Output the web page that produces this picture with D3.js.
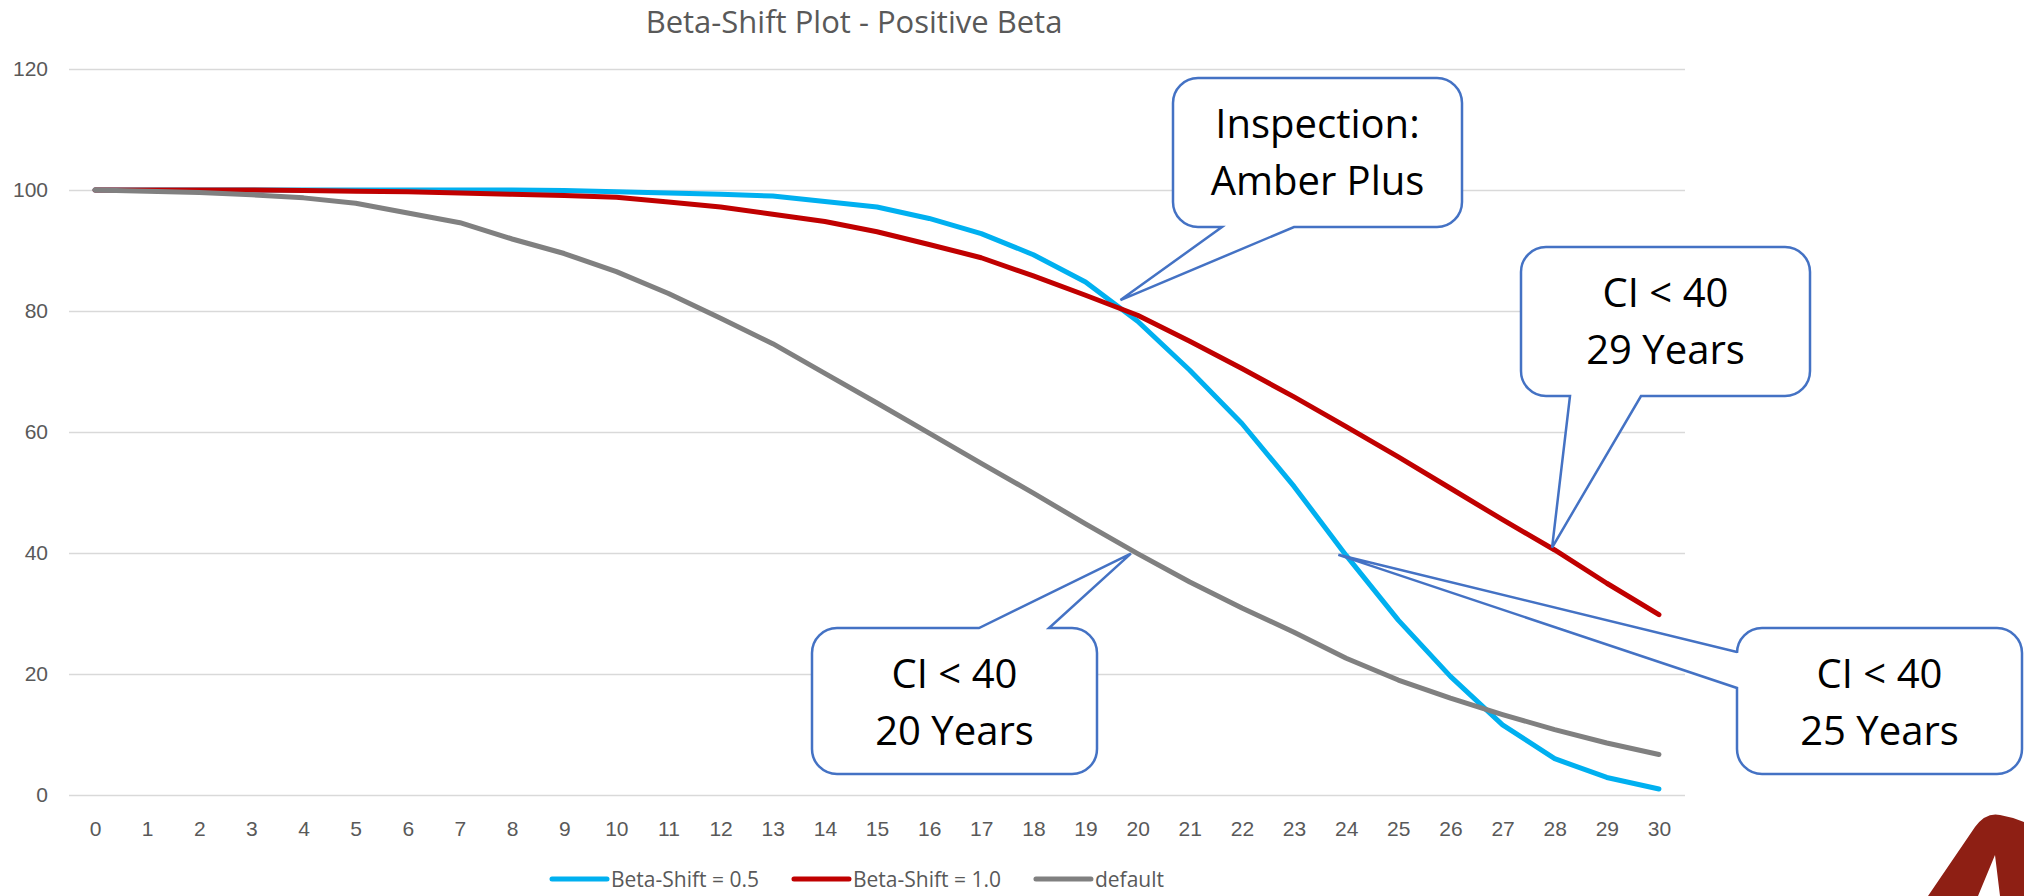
<!DOCTYPE html>
<html>
<head>
<meta charset="utf-8">
<script src="https://cdnjs.cloudflare.com/ajax/libs/d3/7.8.5/d3.min.js"></script>
<style>
  body { margin: 0; background: #fff; }
  svg { display: block; font-family: 'Open Sans', sans-serif; }
  .tick text { fill: #595959; font-size: 21px; }
</style>
</head>
<body>
<script>
// chart data

var years = d3.range(0, 31)
var yTicks = [0, 20, 40, 60, 80, 100, 120]

var betaShift05 = [100, 100, 100, 100, 100, 100, 100, 100, 100, 99.9, 99.7,
  99.5, 99.3, 99.0, 98.1, 97.2, 95.3, 92.8, 89.3, 84.8, 78.3,
  70.2, 61.4, 51.0, 39.6, 28.9, 19.6, 11.6, 6.0, 2.9, 1.0]
var betaShift10 = [100, 100, 100, 100, 99.9, 99.8, 99.7, 99.5, 99.3, 99.1, 98.8,
  98.0, 97.2, 96.0, 94.8, 93.1, 91.0, 88.8, 85.8, 82.6, 79.3,
  75.0, 70.5, 65.8, 60.9, 55.9, 50.7, 45.5, 40.5, 35.0, 29.8]
var defaultCurve = [100, 99.8, 99.6, 99.2, 98.7, 97.8, 96.2, 94.6, 91.9, 89.5, 86.5,
  82.9, 78.8, 74.6, 69.7, 64.8, 59.8, 54.8, 49.9, 44.8, 39.9,
  35.2, 30.9, 26.9, 22.6, 19.0, 16.0, 13.3, 10.8, 8.6, 6.7]

var seriesNames = ['Beta-Shift = 0.5', 'Beta-Shift = 1.0', 'default']
var seriesColors = ['#00B0F0', '#C00000', '#808080']
var seriesValues = [betaShift05, betaShift10, defaultCurve]

// callout labels and the point (year, value) each one points at
var calloutLines = [['Inspection:', 'Amber Plus'], ['CI < 40', '29 Years'], ['CI < 40', '20 Years'], ['CI < 40', '25 Years']]
var calloutTargets = [[19.67, 81.8], [27.95, 40.9], [19.87, 39.9], [23.85, 39.7]]

// page setup

var width = 2024
var height = 896

var svg = d3.select('body').append('svg')
  .attr('width', width)
  .attr('height', height)

var plot = { left: 69, right: 1685, top: 69, bottom: 795 }

var x = d3.scalePoint()
  .domain(years)
  .range([plot.left, plot.right])
  .padding(0.5)

var y = d3.scaleLinear()
  .domain([0, 120])
  .range([plot.bottom, plot.top])

// turn a fractional year into a pixel position
function xAt(year) {
  return x(0) + year * x.step()
}

// gridlines + y labels

var yAxis = svg.append('g')
  .attr('transform', `translate(${plot.left}, 0)`)
  .call(d3.axisLeft(y)
    .tickValues(yTicks)
    .tickSize(-(plot.right - plot.left))
    .tickPadding(21))

yAxis.select('.domain').remove()
yAxis.selectAll('.tick line')
  .attr('stroke', '#D9D9D9')
  .attr('stroke-width', 1.5)

// x labels

var xAxis = svg.append('g')
  .attr('transform', `translate(0, ${plot.bottom})`)
  .call(d3.axisBottom(x).tickSize(0).tickPadding(26))

xAxis.select('.domain').remove()

// title

svg.append('text')
  .attr('x', 854)
  .attr('y', 33)
  .attr('text-anchor', 'middle')
  .style('font-size', '31px')
  .style('fill', '#595959')
  .text('Beta-Shift Plot - Positive Beta')

// series lines

var line = d3.line()
  .x(function(d, i) { return x(years[i]) })
  .y(function(d) { return y(d) })

svg.selectAll('.series')
  .data(seriesValues)
  .enter()
  .append('path')
  .attr('class', 'series')
  .attr('d', line)
  .attr('fill', 'none')
  .attr('stroke', function(d, i) { return seriesColors[i] })
  .attr('stroke-width', 5)
  .attr('stroke-linejoin', 'round')
  .attr('stroke-linecap', 'round')

// legend

var legend = svg.append('g').attr('class', 'legend')
var legendX = 552
seriesNames.forEach(function(name, i) {
  legend.append('line')
    .attr('x1', legendX)
    .attr('x2', legendX + 55)
    .attr('y1', 879)
    .attr('y2', 879)
    .attr('stroke', seriesColors[i])
    .attr('stroke-width', 5)
    .attr('stroke-linecap', 'round')
  var label = legend.append('text')
    .attr('x', legendX + 59)
    .attr('y', 887)
    .style('font-size', '21px')
    .style('fill', '#595959')
    .text(name)
  legendX += 59 + label.node().getComputedTextLength() + 35
})

// callouts: rounded box with a wedge pointing at a spot on the chart
// box = [left, top, right, bottom], wedge = [side, from, to]

var calloutBoxes = [[1173, 78, 1462, 227], [1521, 247, 1810, 396], [812, 628, 1097, 774], [1737, 628, 2022, 774]]
var calloutWedges = [['bottom', 1222, 1294], ['bottom', 1570, 1641], ['top', 979, 1049], ['left', 652, 688]]

function calloutPath(box, wedge, tip) {
  var x0 = box[0], y0 = box[1], x1 = box[2], y1 = box[3]
  var r = 25
  var p = d3.path()
  p.moveTo(x0 + r, y0)
  if (wedge[0] == 'top') {
    p.lineTo(wedge[1], y0)
    p.lineTo(tip[0], tip[1])
    p.lineTo(wedge[2], y0)
  }
  p.lineTo(x1 - r, y0)
  p.arcTo(x1, y0, x1, y0 + r, r)
  p.lineTo(x1, y1 - r)
  p.arcTo(x1, y1, x1 - r, y1, r)
  if (wedge[0] == 'bottom') {
    p.lineTo(wedge[2], y1)
    p.lineTo(tip[0], tip[1])
    p.lineTo(wedge[1], y1)
  }
  p.lineTo(x0 + r, y1)
  p.arcTo(x0, y1, x0, y1 - r, r)
  if (wedge[0] == 'left') {
    p.lineTo(x0, wedge[2])
    p.lineTo(tip[0], tip[1])
    p.lineTo(x0, wedge[1])
  }
  p.lineTo(x0, y0 + r)
  p.arcTo(x0, y0, x0 + r, y0, r)
  p.closePath()
  return p.toString()
}

var callouts = svg.selectAll('.callout')
  .data(calloutLines)
  .enter()
  .append('g')
  .attr('class', 'callout')

callouts.append('path')
  .attr('d', function(d, i) {
    var tip = [xAt(calloutTargets[i][0]), y(calloutTargets[i][1])]
    return calloutPath(calloutBoxes[i], calloutWedges[i], tip)
  })
  .attr('fill', '#fff')
  .attr('stroke', '#4472C4')
  .attr('stroke-width', 2.5)
  .attr('stroke-linejoin', 'miter')

callouts.each(function(d, i) {
  var box = calloutBoxes[i]
  var g = d3.select(this)
  d.forEach(function(txt, j) {
    g.append('text')
      .attr('x', (box[0] + box[2]) / 2)
      .attr('y', box[1] + 60 + j * 57)
      .attr('text-anchor', 'middle')
      .style('font-size', '40px')
      .style('fill', '#000')
      .text(txt)
  })
})

// logo corner mark

svg.append('path')
  .attr('d', 'M1928,896 L1975,827 Q1986,812 2000,815 Q2012,817 2024,822 L2024,896 L2000,896 L1995,855 L1978,896 Z')
  .attr('fill', '#8E1F14')
</script>
</body>
</html>
